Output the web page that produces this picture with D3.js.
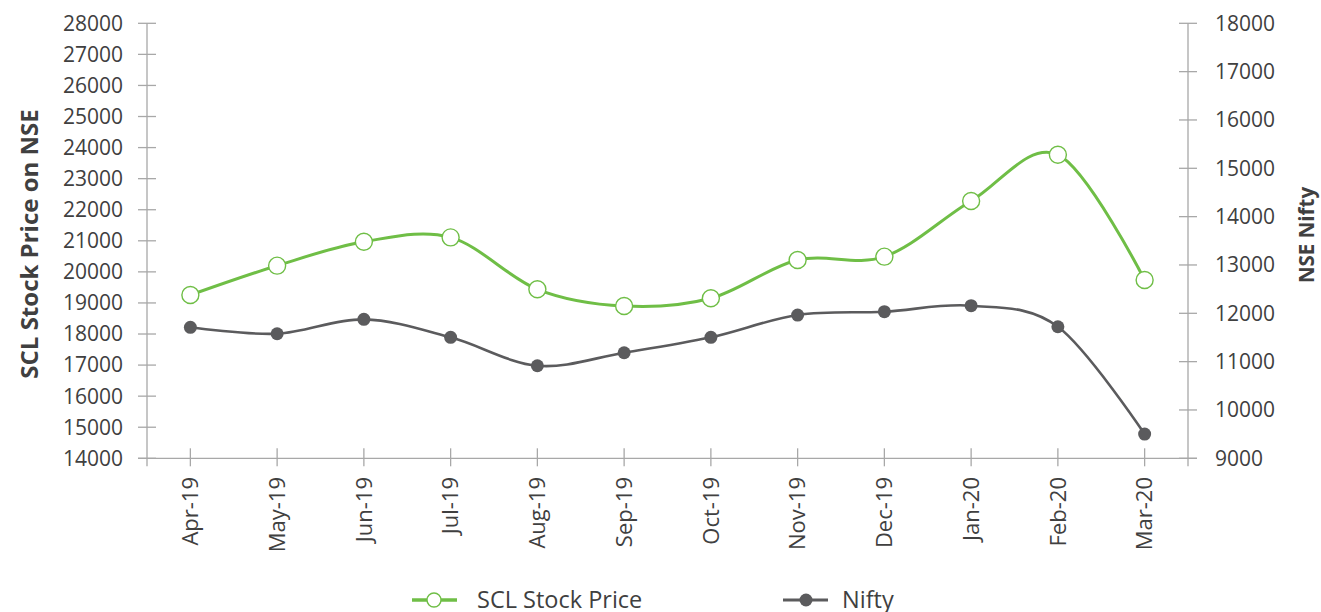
<!DOCTYPE html>
<html>
<head>
<meta charset="utf-8">
<script src="https://cdn.jsdelivr.net/npm/d3@7"></script>
<style>
  html, body { margin: 0; padding: 0; background: #fff; }
  svg { display: block; font-family: "Open Sans", sans-serif; }
</style>
</head>
<body>
<svg id="chart" width="1321" height="612"></svg>
<script>
const categories = ["Apr-19","May-19","Jun-19","Jul-19","Aug-19","Sep-19","Oct-19","Nov-19","Dec-19","Jan-20","Feb-20","Mar-20"];
const sclPrice = [19255, 20200, 20970, 21110, 19440, 18900, 19150, 20380, 20490, 22280, 23770, 19740];
const nifty = [11710, 11577, 11875, 11503, 10915, 11184, 11503, 11964, 12033, 12157, 11722, 9502];
const leftTicks = [14000,15000,16000,17000,18000,19000,20000,21000,22000,23000,24000,25000,26000,27000,28000];
const rightTicks = [9000,10000,11000,12000,13000,14000,15000,16000,17000,18000];
const seriesNames = ["SCL Stock Price", "Nifty"];

const svg = d3.select("#chart");
const pLeft = 147, pRight = 1188, pTop = 23.3, pBottom = 458.3;
const green = "#6fbe46", gray = "#5b5b5d", axisCol = "#a8a8a8", textCol = "#404040";

const x = d3.scaleBand().domain(categories).range([pLeft, pRight]);
const yL = d3.scaleLinear().domain([14000, 28000]).range([pBottom, pTop]);
const yR = d3.scaleLinear().domain([9000, 18000]).range([pBottom, pTop]);

// Left axis
const gL = svg.append("g");
gL.append("line").attr("x1", pLeft).attr("x2", pLeft).attr("y1", pTop).attr("y2", pBottom + 8).attr("stroke", axisCol).attr("stroke-width", 1.3);
gL.selectAll("line.t").data(leftTicks).join("line").attr("class","t")
  .attr("x1", pLeft - 9).attr("x2", pLeft + 9).attr("y1", d => yL(d)).attr("y2", d => yL(d))
  .attr("stroke", axisCol).attr("stroke-width", 1.3);
gL.selectAll("text").data(leftTicks).join("text")
  .attr("x", 123).attr("y", d => yL(d)).attr("dy", "0.35em").attr("text-anchor", "end")
  .attr("font-size", 21).attr("fill", textCol).text(d => d);

// Right axis
const gR = svg.append("g");
gR.append("line").attr("x1", pRight).attr("x2", pRight).attr("y1", pTop).attr("y2", pBottom + 8).attr("stroke", axisCol).attr("stroke-width", 1.3);
gR.selectAll("line.t").data(rightTicks).join("line").attr("class","t")
  .attr("x1", pRight - 9).attr("x2", pRight + 9).attr("y1", d => yR(d)).attr("y2", d => yR(d))
  .attr("stroke", axisCol).attr("stroke-width", 1.3);
gR.selectAll("text").data(rightTicks).join("text")
  .attr("x", 1215).attr("y", d => yR(d)).attr("dy", "0.35em").attr("text-anchor", "start")
  .attr("font-size", 21).attr("fill", textCol).text(d => d);

// X axis
const gX = svg.append("g");
gX.append("line").attr("x1", pLeft - 9).attr("x2", pRight + 9).attr("y1", pBottom).attr("y2", pBottom).attr("stroke", axisCol).attr("stroke-width", 1.3);
gX.selectAll("line.t").data(categories).join("line").attr("class","t")
  .attr("x1", d => x(d) + x.bandwidth()/2).attr("x2", d => x(d) + x.bandwidth()/2)
  .attr("y1", pBottom - 10).attr("y2", pBottom + 8).attr("stroke", axisCol).attr("stroke-width", 1.3);
gX.selectAll("text").data(categories).join("text")
  .attr("transform", d => `translate(${x(d) + x.bandwidth()/2},477) rotate(-90)`)
  .attr("dy", "0.35em").attr("text-anchor", "end")
  .attr("font-size", 22).attr("fill", textCol).text(d => d);

// Axis titles
svg.append("text").attr("transform", "translate(30,244) rotate(-90)")
  .attr("text-anchor", "middle").attr("dy", "0.35em").attr("font-size", 24).attr("font-weight", "bold")
  .attr("fill", textCol).text("SCL Stock Price on NSE");
svg.append("text").attr("transform", "translate(1307,235) rotate(-90)")
  .attr("text-anchor", "middle").attr("dy", "0.35em").attr("font-size", 20.5).attr("font-weight", "bold")
  .attr("fill", textCol).text("NSE Nifty");

const cx = i => x(categories[i]) + x.bandwidth()/2;
const curve = d3.curveCatmullRom.alpha(0);

// Nifty line
svg.append("path").datum(nifty)
  .attr("d", d3.line().x((d,i) => cx(i)).y(d => yR(d)).curve(curve))
  .attr("fill", "none").attr("stroke", gray).attr("stroke-width", 2.6);
svg.selectAll("circle.n").data(nifty).join("circle").attr("class","n")
  .attr("cx", (d,i) => cx(i)).attr("cy", d => yR(d)).attr("r", 6.5).attr("fill", gray);

// SCL line
svg.append("path").datum(sclPrice)
  .attr("d", d3.line().x((d,i) => cx(i)).y(d => yL(d)).curve(curve))
  .attr("fill", "none").attr("stroke", green).attr("stroke-width", 3);
svg.selectAll("circle.s").data(sclPrice).join("circle").attr("class","s")
  .attr("cx", (d,i) => cx(i)).attr("cy", d => yL(d)).attr("r", 8.5)
  .attr("fill", "#fff").attr("stroke", green).attr("stroke-width", 1.4);

// Legend
const lg = svg.append("g");
lg.append("line").attr("x1", 412).attr("x2", 457).attr("y1", 600).attr("y2", 600).attr("stroke", green).attr("stroke-width", 3.5);
lg.append("circle").attr("cx", 434).attr("cy", 600).attr("r", 7).attr("fill", "#fff").attr("stroke", green).attr("stroke-width", 1.4);
lg.append("text").attr("x", 477).attr("y", 600).attr("dy", "0.35em").attr("font-size", 23.5).attr("fill", textCol).text(seriesNames[0]);
lg.append("line").attr("x1", 783).attr("x2", 828).attr("y1", 600).attr("y2", 600).attr("stroke", gray).attr("stroke-width", 3);
lg.append("circle").attr("cx", 806).attr("cy", 600).attr("r", 6.5).attr("fill", gray);
lg.append("text").attr("x", 842).attr("y", 600).attr("dy", "0.35em").attr("font-size", 23.5).attr("fill", textCol).text(seriesNames[1]);
</script>
</body>
</html>
